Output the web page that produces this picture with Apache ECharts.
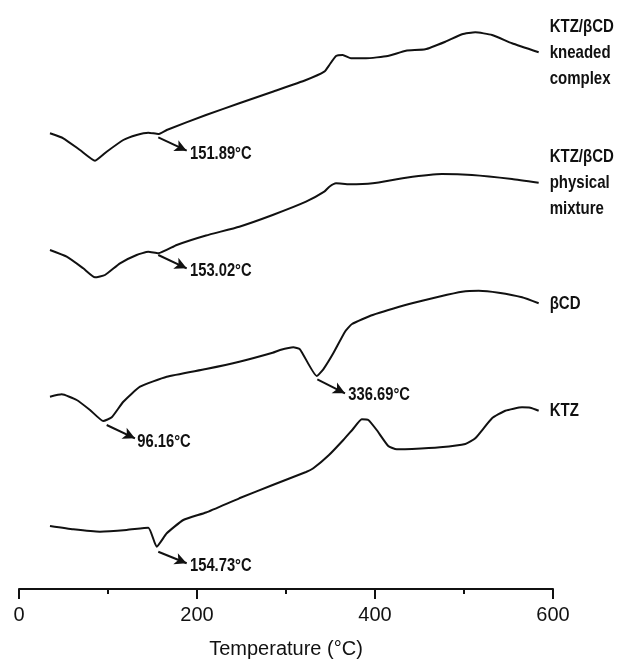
<!DOCTYPE html>
<html>
<head>
<meta charset="utf-8">
<script src="https://cdn.jsdelivr.net/npm/echarts@6/dist/echarts.min.js"></script>
<style>
html,body{margin:0;padding:0;background:#ffffff;}
#chart{width:618px;height:671px;}
</style>
</head>
<body>
<div id="chart"></div>
<script>
// ---- Data (temperature in °C, heat flow in arbitrary stacked units) ----
const seriesNames = ['KTZ/βCD\nkneaded\ncomplex', 'KTZ/βCD\nphysical\nmixture', 'βCD', 'KTZ'];

const kneadedT = [34.8, 49.8, 68.5, 85.4, 98.5, 117.2, 132.2, 145.3, 156.5, 166, 210.1, 247.5, 285, 322.5, 343, 348.7, 356.2, 363.7, 373, 389.9, 414.3, 434.8, 456.5, 479, 497.8, 512.7, 531.5, 553.9, 583.9];
const kneadedV = [455.7, 450.7, 439, 428.3, 437.3, 449, 454, 456.3, 455, 459, 474, 485.7, 497.3, 509, 517.3, 524, 533, 534, 530.7, 530.7, 533, 538.3, 539.7, 547.3, 554.7, 556.7, 554, 545.7, 536.7];

const physicalT = [34.8, 53.6, 72.2, 85.4, 96.6, 113.5, 132.2, 145.3, 156.5, 177.2, 210.1, 247.5, 285, 322.5, 343, 348.7, 356.2, 371.1, 397.4, 434.8, 475.3, 509, 553.9, 583.9];
const physicalV = [339, 332.3, 320.7, 311.7, 314, 325.7, 334, 337.3, 335.7, 344, 353.5, 362.3, 374, 387.3, 397.3, 402.3, 405.7, 404.7, 405.7, 411.3, 415, 414, 410, 406.3];

const bcdT = [34.8, 48, 64.8, 79.8, 94.7, 104.2, 117.2, 136, 166, 210.1, 247.5, 285, 293.3, 308.2, 315.7, 334.5, 341.9, 353.1, 366.3, 374.2, 397.4, 441.6, 471.6, 497.8, 516.5, 539, 565.2, 583.9];
const bcdV = [192.3, 194.7, 189, 179, 168, 171.7, 187.3, 202.3, 212.3, 220, 227.3, 236.3, 239, 241.7, 239.7, 213, 219.7, 235.7, 257.3, 265, 274, 285.7, 292.3, 297.3, 298.3, 296.3, 291.7, 285.7];

const ktzT = [34.8, 61, 91, 121, 145.3, 154.7, 166, 184.6, 210.1, 247.5, 285, 322.5, 330.7, 348.3, 364.4, 375.3, 385.1, 392.5, 401.9, 414.9, 424.4, 441.6, 473, 501.5, 512.7, 531.5, 546.4, 565.2, 574.5, 583.9];
const ktzV = [63, 59.7, 57.3, 59, 61.3, 42.3, 55.7, 69, 76.5, 90.7, 104, 117, 120.7, 134, 149, 160, 169.7, 169, 159, 143, 139.7, 140, 141.7, 145, 150.7, 170.7, 178.3, 181.7, 181.3, 178.3];

const xTickValues = [0, 200, 400, 600];

// annotations: onset / peak temperatures with arrows
const annotTexts  = ['151.89°C', '153.02°C', '96.16°C', '336.69°C', '154.73°C'];
const annotSeries = [0, 1, 2, 2, 3];
const arrowFromT  = [156.5, 156.5, 98.5, 335.2, 156.5];
const arrowFromV  = [451.7, 334, 164, 209.7, 37.3];
const arrowToT    = [188.4, 188.4, 130.3, 366.3, 188.4];
const arrowToV    = [438.3, 320.7, 150.7, 195.7, 25.7];
const labelT      = [192.1, 192.1, 132.9, 370, 192.1];
const labelV      = [435, 318, 147.3, 194, 23];

// ---- Build chart ----
const FONT = '"Liberation Sans", Arial, Helvetica, sans-serif';
const INK = '#111111';

const curves = [
  [kneadedT, kneadedV],
  [physicalT, physicalV],
  [bcdT, bcdV],
  [ktzT, ktzV]
];

function zip(ts, vs) { return ts.map((t, i) => [t, vs[i]]); }

const series = curves.map((c, si) => {
  const idx = annotSeries.map((s, i) => s === si ? i : -1).filter(i => i >= 0);
  return {
    type: 'line',
    name: seriesNames[si].replace(/\n/g, ' '),
    data: zip(c[0], c[1]),
    showSymbol: false,
    symbol: 'none',
    smooth: 0.15,
    lineStyle: { color: INK, width: 2 },
    silent: true,
    animation: false,
    markLine: {
      silent: true,
      animation: false,
      symbol: ['none', 'arrow'],
      symbolSize: [9, 12],
      lineStyle: { color: INK, width: 2, type: 'solid' },
      label: { show: false },
      data: idx.map(i => [
        { coord: [arrowFromT[i], arrowFromV[i]] },
        { coord: [arrowToT[i], arrowToV[i]] }
      ])
    }
  };
});

const chart = echarts.init(document.getElementById('chart'), null, { renderer: 'canvas' });
chart.setOption({
  backgroundColor: '#ffffff',
  animation: false,
  grid: { left: 19, right: 65, top: 0, bottom: 82, containLabel: false },
  xAxis: {
    type: 'value',
    min: 0,
    max: 600,
    interval: 200,
    name: 'Temperature (°C)',
    nameLocation: 'middle',
    nameGap: 50,
    nameTextStyle: { color: INK, fontFamily: FONT, fontSize: 20 },
    axisLine: { show: true, lineStyle: { color: INK, width: 2 } },
    axisTick: { show: true, length: 10, lineStyle: { color: INK, width: 2 } },
    minorTick: { show: true, splitNumber: 2, length: 5, lineStyle: { color: INK, width: 2 } },
    splitLine: { show: false },
    minorSplitLine: { show: false },
    axisLabel: {
      color: INK, fontFamily: FONT, fontSize: 20, margin: 16,
      formatter: v => xTickValues.includes(v) ? String(v) : ''
    }
  },
  yAxis: {
    type: 'value',
    min: 0,
    max: 589,
    show: false,
    splitLine: { show: false }
  },
  series: series
});

// Text labels (condensed bold, positioned through the chart's own coordinate system)
const graphics = [];
curves.forEach((c, si) => {
  const n = c[0].length;
  const p = chart.convertToPixel({ gridIndex: 0 }, [c[0][n - 1], c[1][n - 1]]);
  graphics.push({
    type: 'text', x: p[0] + 11, y: p[1], scaleX: 0.79, silent: true, z: 10,
    style: {
      text: seriesNames[si], fill: INK,
      fontFamily: FONT, fontWeight: 'bold', fontSize: 19,
      font: 'bold 19px ' + FONT,
      align: 'left', verticalAlign: 'middle',
      textAlign: 'left', textVerticalAlign: 'middle',
      lineHeight: 26
    }
  });
});
annotTexts.forEach((t, i) => {
  const p = chart.convertToPixel({ gridIndex: 0 }, [labelT[i], labelV[i]]);
  graphics.push({
    type: 'text', x: p[0], y: p[1], scaleX: 0.82, silent: true, z: 10,
    style: {
      text: t, fill: INK,
      fontFamily: FONT, fontWeight: 'bold', fontSize: 18,
      font: 'bold 18px ' + FONT,
      align: 'left', verticalAlign: 'middle',
      textAlign: 'left', textVerticalAlign: 'middle'
    }
  });
});
chart.setOption({ graphic: graphics });
</script>
</body>
</html>
